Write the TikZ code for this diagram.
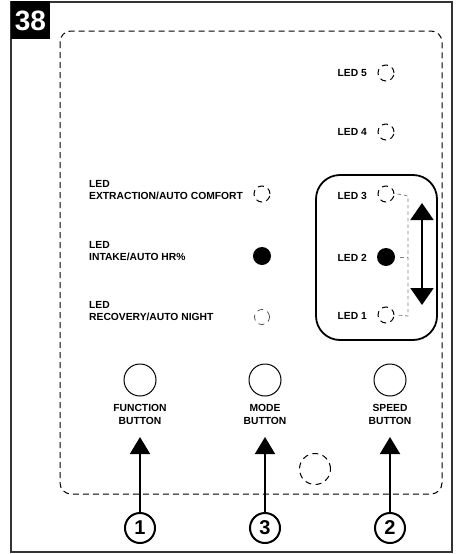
\documentclass[tikz,border=0pt]{standalone}
\usepackage{fontspec}
\setmainfont{Liberation Sans}
\usetikzlibrary{arrows.meta}
\tikzset{
  lbl/.style={font=\fontsize{10.3}{11.5}\selectfont\bfseries, inner sep=0pt, align=left},
  btnlbl/.style={font=\fontsize{10.3}{12.5}\selectfont\bfseries, inner sep=0pt, align=center},
  ledoff/.style={circle, draw, line width=1pt, dash pattern=on 6pt off 4.5pt, minimum size=16pt, inner sep=0pt},
  ledon/.style={circle, fill=black, minimum size=18pt, inner sep=0pt},
  btn/.style={circle, draw, line width=1pt, minimum size=32pt, inner sep=0pt},
  num/.style={circle, draw, line width=2pt, minimum size=30pt, inner sep=0pt, font=\fontsize{20}{20}\selectfont\bfseries},
  arr/.style={line width=2pt, -{Triangle[width=20pt,length=17pt]}},
  guide/.style={draw=gray, line width=0.8pt, dash pattern=on 3.5pt off 3pt}
}
\begin{document}
\begin{tikzpicture}[x=1pt,y=-1pt]
\useasboundingbox (0,0) rectangle (456,554);
% outer frame
\draw[line width=2pt, draw=black!80] (11,2) rectangle (452,552);
\fill[black] (11,1) rectangle (50,39);
\node[text=white, font=\fontsize{28}{28}\selectfont\bfseries, inner sep=0pt] (title) at (30.5,21) {38};
% dashed panel
\draw[line width=1pt, dash pattern=on 6pt off 4pt, rounded corners=11pt] (60,31) rectangle (442,494);
% right LEDs
\node[ledoff] (l5) at (386,73) {};
\node[lbl, anchor=east] (t5) at (367,73) {LED 5};
\node[ledoff] (l4) at (386,132) {};
\node[lbl, anchor=east] (t4) at (367,132) {LED 4};
% speed box
\draw[line width=1.8pt, rounded corners=24pt] (316,175) rectangle (437,340);
\node[ledoff] (l3) at (386,194) {};
\node[lbl, anchor=east] (t3) at (367,196) {LED 3};
\node[ledon] (l2) at (386,257) {};
\node[lbl, anchor=east] (t2) at (367,258) {LED 2};
\node[ledoff] (l1) at (386,315) {};
\node[lbl, anchor=east] (t1) at (367,316) {LED 1};
\coordinate (g3) at (408,196);
\coordinate (g2) at (408,257);
\coordinate (g1) at (408,316);
\draw[guide] ([xshift=3pt]l3.east) -- (g3) -- (g1) -- ([xshift=3pt]l1.east);
\draw[guide] ([xshift=5pt]l2.east) -- (g2);
\coordinate (da) at (422,203);
\coordinate (db) at (422,305);
\draw[line width=2pt, {Triangle[width=23pt,length=17pt]}-{Triangle[width=23pt,length=17pt]}] (da) -- (db);
% left LEDs
\node[ledoff] (le) at (262,194) {};
\node[lbl, anchor=west] (te) at (89,190) {LED\\EXTRACTION/AUTO COMFORT};
\node[ledon] (li) at (262,256) {};
\node[lbl, anchor=west] (ti) at (89,251) {LED\\INTAKE/AUTO HR\%};
\node[ledoff, line width=0.7pt, draw=black!75, minimum size=15pt] (lr) at (262,317) {};
\node[lbl, anchor=west] (tr) at (89,311) {LED\\RECOVERY/AUTO NIGHT};
% buttons
\node[btn] (bf) at (140,380) {};
\node[btnlbl] (tf) at (140,414.5) {FUNCTION\\BUTTON};
\node[btn] (bm) at (265,380) {};
\node[btnlbl] (tm) at (265,414.5) {MODE\\BUTTON};
\node[btn] (bs) at (390,380) {};
\node[btnlbl] (ts) at (390,414.5) {SPEED\\BUTTON};
% sensor
\node[circle, draw, line width=1pt, dash pattern=on 6pt off 4.5pt, minimum size=31pt, inner sep=0pt] (sen) at (315,469) {};
% numbers and arrows
\node[num] (n1) at (140,528) {1};
\node[num] (n3) at (265,528) {3};
\node[num] (n2) at (390,528) {2};
\coordinate (a1) at (140,437);
\coordinate (a3) at (265,437);
\coordinate (a2) at (390,437);
\draw[arr] (n1.north) -- (a1);
\draw[arr] (n3.north) -- (a3);
\draw[arr] (n2.north) -- (a2);
\end{tikzpicture}
\end{document}
